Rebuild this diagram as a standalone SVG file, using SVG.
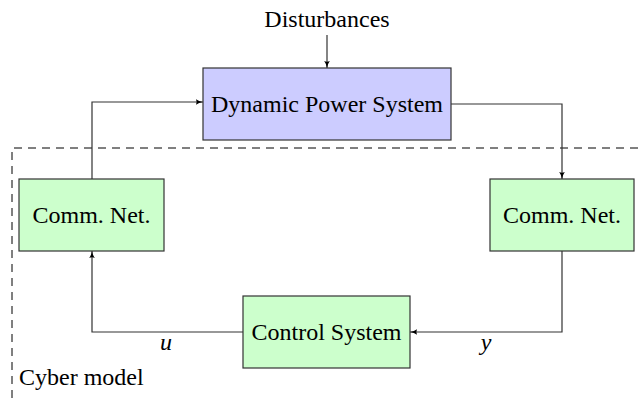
<svg xmlns="http://www.w3.org/2000/svg" width="639" height="398" viewBox="0 0 639 398">
<style>
text{font-family:'Liberation Serif',serif;font-size:24px;fill:#000}
.c{text-anchor:middle}
.m{font-style:italic}
.box{stroke:#333;stroke-width:1.2}
.blue{fill:#ccccff}
.green{fill:#ccffcc}
.line{fill:none;stroke:#333;stroke-width:1.2}
</style>
<defs>
<marker id="arr" viewBox="0 0 10 10" refX="10" refY="5" markerWidth="7" markerHeight="7" orient="auto" markerUnits="userSpaceOnUse">
<path d="M0,1 Q4,4 10,5 Q4,6 0,9 Q2,5 0,1 Z" fill="#000"/>
</marker>
</defs>
<rect width="639" height="398" fill="#fff"/>
<g id="cyber-region">
<path d="M12,398 V148 H639" fill="none" stroke="#000" stroke-width="1" stroke-dasharray="8,6"/>
<text x="19" y="385" font-family="Liberation Serif">Cyber model</text>
</g>
<g id="connectors">
<path class="line" d="M327,35 V68" marker-end="url(#arr)"/>
<path class="line" d="M451,104 H562 V179" marker-end="url(#arr)"/>
<path class="line" d="M562,251 V332 H410" marker-end="url(#arr)"/>
<path class="line" d="M243,332 H92 V251" marker-end="url(#arr)"/>
<path class="line" d="M92,179 V102 H203" marker-end="url(#arr)"/>
<text class="c m" x="166" y="350">u</text>
<text class="c m" x="486" y="350">y</text>
</g>
<g id="disturbances">
<text class="c" x="327" y="27">Disturbances</text>
</g>
<g id="power-system">
<rect class="box blue" x="203" y="68" width="248" height="72"/>
<text class="c" x="327" y="112">Dynamic Power System</text>
</g>
<g id="comm-net-left">
<rect class="box green" x="19" y="179" width="145" height="72"/>
<text class="c" x="91.5" y="223">Comm. Net.</text>
</g>
<g id="comm-net-right">
<rect class="box green" x="490" y="179" width="144" height="72"/>
<text class="c" x="562" y="223">Comm. Net.</text>
</g>
<g id="control-system">
<rect class="box green" x="243" y="296" width="167" height="72"/>
<text class="c" x="326.5" y="340">Control System</text>
</g>
</svg>
